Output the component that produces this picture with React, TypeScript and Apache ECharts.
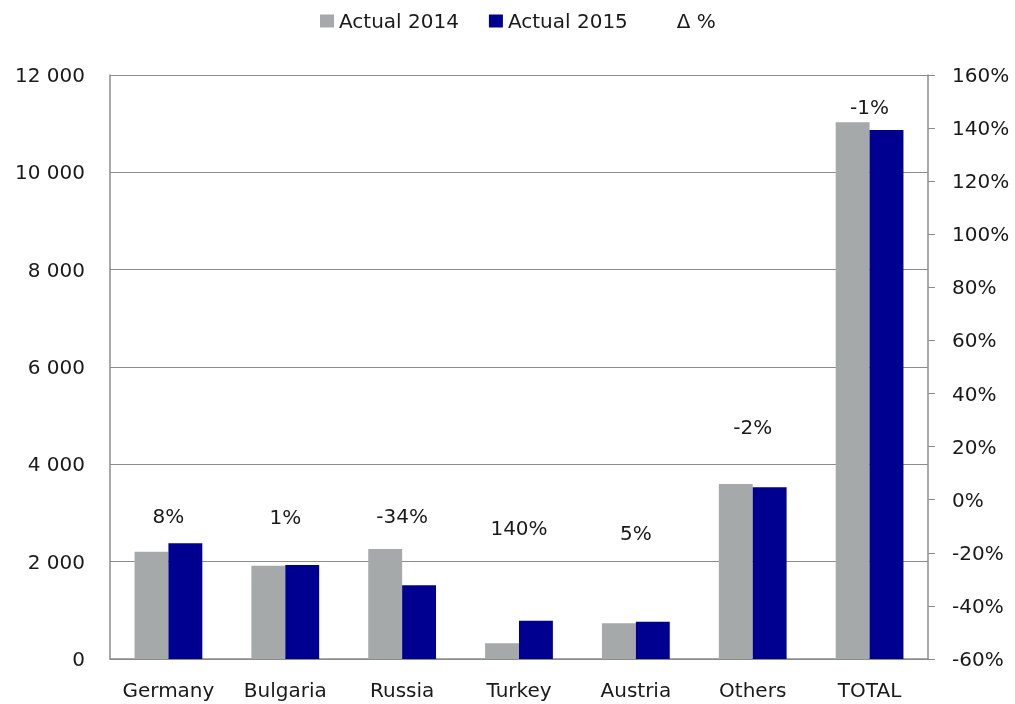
import React, { useEffect, useRef } from "react";
import * as echarts from "echarts";

const categories = ["Germany", "Bulgaria", "Russia", "Turkey", "Austria", "Others", "TOTAL"];
const actual2014 = [2205, 1918, 2260, 322, 733, 3596, 11028];
const actual2015 = [2377, 1932, 1514, 787, 767, 3528, 10870];
const deltaPct = ["8%", "1%", "-34%", "140%", "5%", "-2%", "-1%"];
// height (left-axis units) at which each Δ % label is written
const deltaLabelAt = [2940, 2920, 2940, 2700, 2580, 4770, 11340];
const leftTicks = { min: 0, max: 12000, interval: 2000 };
const rightTicks = { min: -60, max: 160, interval: 20 };

const FONT = "DejaVu Sans";
const TXT = "#1a1a1a";
const LINE = "#8c8c8c";

export default function App() {
  const ref = useRef<HTMLDivElement>(null);
  useEffect(() => {
    const chart = echarts.init(ref.current!, null, { renderer: "svg" });
    chart.setOption({
      animation: false,
      textStyle: { fontFamily: FONT, color: TXT },
      legend: {
        left: 315,
        top: 6,
        icon: "rect",
        itemWidth: 14,
        itemHeight: 13,
        itemGap: 30,
        textStyle: { fontFamily: FONT, fontSize: 20, color: TXT },
        data: ["Actual 2014", "Actual 2015", "Δ %"],
      },
      grid: { left: 110, right: 87, top: 75, bottom: 45, containLabel: false },
      xAxis: {
        type: "category",
        data: categories,
        axisLine: { show: true, lineStyle: { color: LINE, width: 1.5 } },
        axisTick: { show: false },
        axisLabel: { fontFamily: FONT, fontSize: 20, color: TXT, margin: 21, interval: 0 },
      },
      yAxis: [
        {
          type: "value",
          min: leftTicks.min,
          max: leftTicks.max,
          interval: leftTicks.interval,
          axisLine: { show: true, lineStyle: { color: LINE, width: 1.5 } },
          axisTick: { show: false },
          splitLine: { show: true, lineStyle: { color: LINE, width: 1.2 } },
          axisLabel: {
            fontFamily: FONT,
            fontSize: 20,
            color: TXT,
            margin: 25,
            formatter: (v: number) => String(v).replace(/\B(?=(\d{3})+(?!\d))/g, " "),
          },
        },
        {
          type: "value",
          position: "right",
          min: rightTicks.min,
          max: rightTicks.max,
          interval: rightTicks.interval,
          axisLine: { show: true, lineStyle: { color: LINE, width: 1.5 } },
          axisTick: { show: true, inside: false, length: 7, lineStyle: { color: LINE } },
          splitLine: { show: false },
          axisLabel: {
            fontFamily: FONT,
            fontSize: 20,
            color: TXT,
            margin: 24,
            formatter: (v: number) => `${v}%`,
          },
        },
      ],
      series: [
        {
          name: "Actual 2014",
          type: "bar",
          data: actual2014,
          barGap: "0%",
          barCategoryGap: "42%",
          itemStyle: { color: "#a6a9a9" },
        },
        {
          name: "Actual 2015",
          type: "bar",
          data: actual2015,
          barGap: "0%",
          barCategoryGap: "42%",
          itemStyle: { color: "#000090" },
        },
        {
          name: "Δ %",
          type: "scatter",
          data: deltaLabelAt,
          symbolSize: 1,
          itemStyle: { color: "#ffffff" },
          label: {
            show: true,
            position: "inside",
            fontFamily: FONT,
            fontSize: 20,
            color: TXT,
            opacity: 1,
            formatter: (p: any) => deltaPct[p.dataIndex],
          },
        },
      ],
    });
    return () => chart.dispose();
  }, []);
  return (
    <div
      ref={ref}
      style={{ position: "fixed", left: 0, top: 0, width: 1015, height: 704 }}
    />
  );
}
